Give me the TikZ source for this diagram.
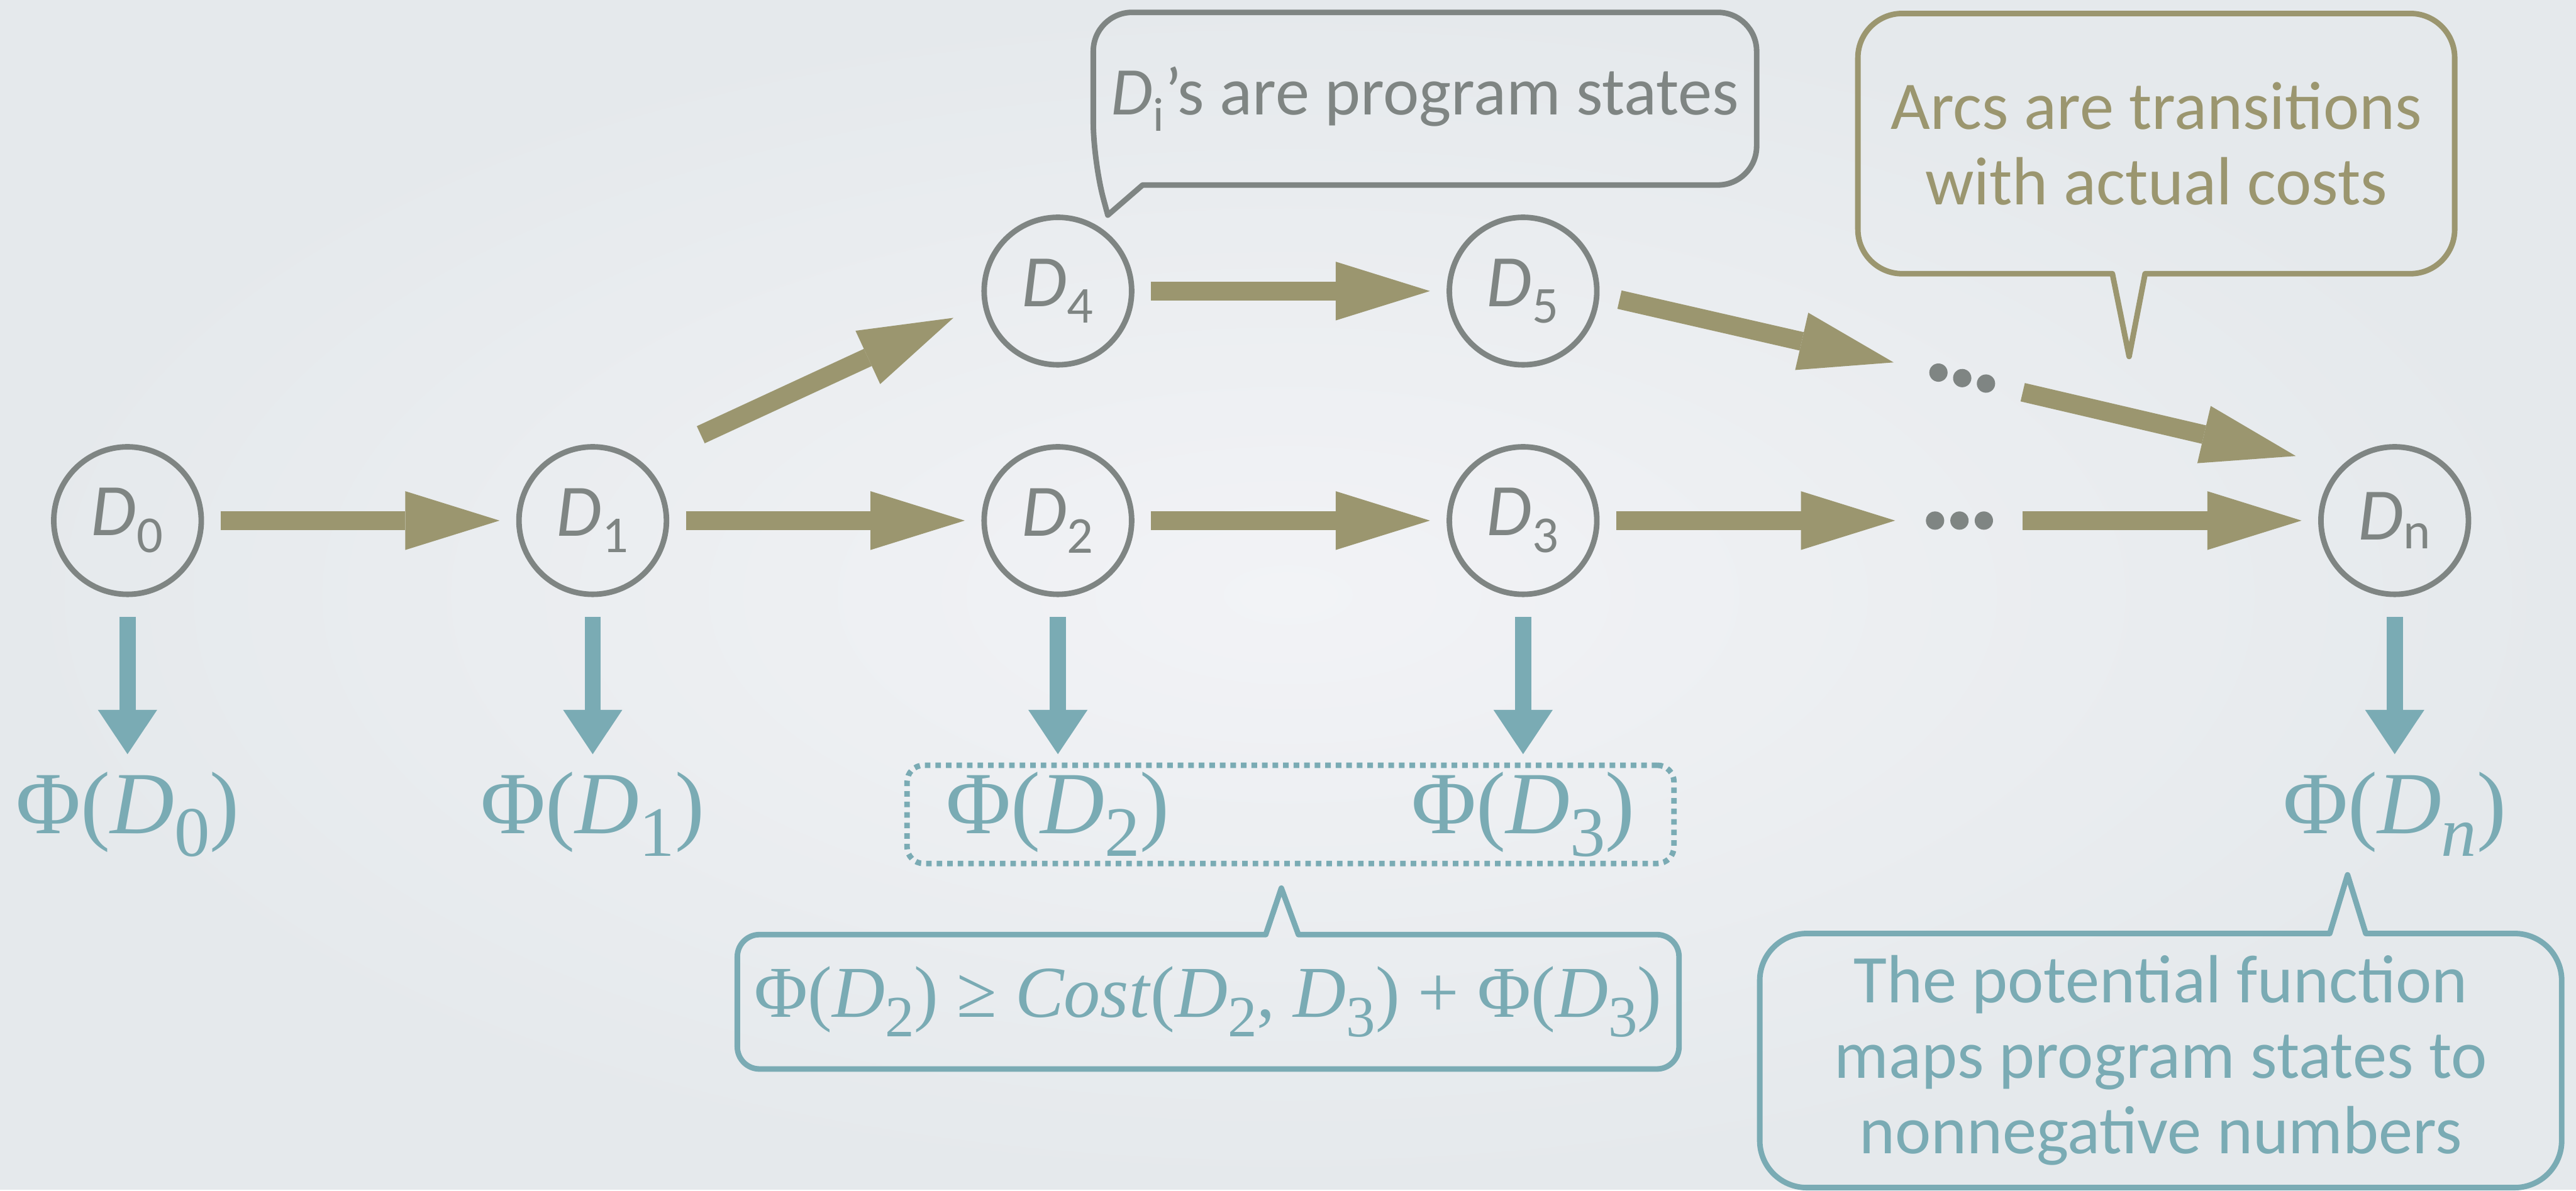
\documentclass[tikz,border=0pt]{standalone}
\usepackage{fontspec}
\setmainfont{Liberation Serif}
\newfontfamily\notefont{Carlito}
\usetikzlibrary{arrows.meta,positioning,calc,fit}

\definecolor{stategray}{HTML}{7F8583}
\definecolor{arcolive}{HTML}{9B966F}
\definecolor{potteal}{HTML}{7AABB4}
\definecolor{bgin}{HTML}{F2F3F6}
\definecolor{bgout}{HTML}{E5E9EC}

% D with a lowered, smaller index
\newcommand{\Dsub}[1]{\textit{D}\raisebox{-0.26em}{\scalebox{0.8}{#1}}}

\tikzset{
    state/.style = {draw=stategray, circle, line width=1mm,
        minimum size=2.66cm, inner sep=0pt, text=stategray,
        font=\notefont\fontsize{38}{40}\selectfont},
    arcarrow/.style = {draw=arcolive, line width=3.4mm,
        -{Triangle[length=17mm, width=10.6mm, line width=0pt]},
        shorten <=3mm, shorten >=3mm},
    potarrow/.style = {draw=potteal, line width=2.9mm,
        -{Triangle[length=8mm, width=10.7mm, line width=0pt]},
        shorten <=3.6mm, shorten >=3.1mm},
    potlabel/.style = {text=potteal, inner sep=0pt,
        font=\fontsize{45.5}{50}\selectfont},
    notetext/.style = {align=center, inner sep=0pt,
        font=\notefont\fontsize{35}{38.7}\selectfont},
    noteline/.style = {line width=1mm, line join=round}
}

\begin{document}
\begin{tikzpicture}
    % slide background
    \shade[inner color=bgin, outer color=bgout] (0,0) rectangle (46.46,-21.46);

    % program states
    \node[state] (d0) at (2.30,-9.39) {\textit{D}\textsubscript{0}};
    \node[state, right of=d0, node distance=8.39cm] (d1) {\textit{D}\textsubscript{1}};
    \node[state, right of=d1, node distance=8.39cm] (d2) {\textit{D}\textsubscript{2}};
    \node[state, right of=d2, node distance=8.39cm] (d3) {\textit{D}\textsubscript{3}};
    \node[state, above of=d2, node distance=4.14cm] (d4) {\textit{D}\textsubscript{4}};
    \node[state, above of=d3, node distance=4.14cm] (d5) {\textit{D}\textsubscript{5}};
    \node[state, right of=d3, node distance=15.72cm] (dn) {\textit{D}\textsubscript{n}};
    \coordinate (dotsA) at (35.39,-6.82);
    \coordinate (dotsB) at (35.34,-9.39);

    \foreach \k in {-1,0,1}{
        \fill[stategray] ($(dotsB)+(\k*0.44,0)$) circle (0.165);
        \fill[stategray, rotate around={-13:(dotsA)}] ($(dotsA)+(\k*0.44,0)$) circle (0.165);
    }

    % transitions
    \draw[arcarrow] (d0) -- (d1);
    \draw[arcarrow] (d1) -- (d2);
    \draw[arcarrow] (d2) -- (d3);
    \draw[arcarrow] (d4) -- (d5);
    \draw[arcarrow, shorten <=11.7mm, shorten >=5.8mm] (d1.50) -- (d4.190);
    \draw[arcarrow, shorten <=3.7mm, shorten >=12.7mm] (d5.-3) -- (dotsA);
    \draw[arcarrow, shorten <=11.2mm, shorten >=8.3mm] (dotsA) -- (dn.135);
    \draw[arcarrow, shorten >=11.6mm] (d3) -- (dotsB);
    \draw[arcarrow, shorten <=11.4mm] (dotsB) -- (dn);

    % potentials
    \foreach \k in {0,1,2,3}{
        \node[potlabel, below of=d\k, node distance=5.64cm, anchor=base] (phi\k) {Φ(\Dsub{\k})};
    }
    \node[potlabel, below of=dn, node distance=5.64cm, anchor=base] (phin) {Φ(\Dsub{\textit{n}})};
    \foreach \k in {0,1,2,3,n}{
        \draw[potarrow] (d\k) -- (phi\k);
    }
    \node[draw=potteal, line width=1mm, dash pattern=on 1mm off 0.9mm, rounded corners=3mm,
        inner xsep=0.7cm, inner ysep=0.11cm, fit=(phi2)(phi3)] (pairBox) {};

    % call-outs (tails kept sharp, box corners rounded)
    \node[notetext, text=stategray, minimum width=11.95cm, minimum height=3.10cm] (noteStates)
        at (25.70,-1.78) {\textit{D}\textsubscript{i}’s are program states};
    \coordinate (tipStates) at (19.98,-3.88);
    \draw[noteline, stategray, rounded corners=7mm]
        ($(noteStates.south west)+(0.89,0)$) -- (noteStates.south east) -- (noteStates.north east)
        -- (noteStates.north west) -- ($(noteStates.south west)+(0,0.43)$)
        [sharp corners] -- (tipStates) -- cycle;

    \node[notetext, text=arcolive, minimum width=10.75cm, minimum height=4.68cm] (noteArcs)
        at (38.89,-2.59) {Arcs are transitions\\with actual costs};
    \coordinate (tipArcs) at (38.40,-6.43);
    \draw[noteline, arcolive, rounded corners=8mm]
        (noteArcs.north) -- (noteArcs.north west) -- (noteArcs.south west)
        -- ($(noteArcs.south west)+(3.5,0)$) [sharp corners]
        -- ($(noteArcs.south west)+(4.59,0)$) -- (tipArcs)
        -- ($(noteArcs.south west)+(5.18,0)$) -- ($(noteArcs.south west)+(6.3,0)$)
        [rounded corners=8mm] -- (noteArcs.south east)
        -- (noteArcs.north east) -- cycle;

    \node[potlabel, font=\fontsize{37.5}{40}\selectfont, minimum width=16.97cm, minimum height=2.41cm]
        (noteIneq) at (21.79,-18.07) {Φ(\Dsub{2}) ≥ \textit{Cost}(\Dsub{2}, \Dsub{3}) + Φ(\Dsub{3})};
    \coordinate (tipIneq) at (23.11,-16.02);
    \draw[noteline, potteal, rounded corners=4mm]
        (noteIneq.south) -- (noteIneq.south west) -- (noteIneq.north west)
        -- ($(noteIneq.north west)+(8.5,0)$) [sharp corners]
        -- ($(noteIneq.north west)+(9.53,0)$) -- (tipIneq)
        -- ($(noteIneq.north west)+(10.12,0)$) -- ($(noteIneq.north west)+(11.2,0)$)
        [rounded corners=4mm] -- (noteIneq.north east)
        -- (noteIneq.south east) -- cycle;

    \node[notetext, text=potteal, minimum width=14.45cm, minimum height=4.57cm] (noteMaps)
        at (38.97,-19.13) {The potential function\\maps program states to\\nonnegative numbers};
    \coordinate (tipMaps) at (42.34,-15.78);
    \draw[noteline, potteal, rounded corners=8.5mm]
        (noteMaps.south) -- (noteMaps.south west) -- (noteMaps.north west)
        -- ($(noteMaps.north west)+(9.2,0)$) [sharp corners]
        -- ($(noteMaps.north west)+(10.28,0)$) -- (tipMaps)
        -- ($(noteMaps.north west)+(10.93,0)$) -- ($(noteMaps.north west)+(12,0)$)
        [rounded corners=8.5mm] -- (noteMaps.north east)
        -- (noteMaps.south east) -- cycle;
\end{tikzpicture}
\end{document}
